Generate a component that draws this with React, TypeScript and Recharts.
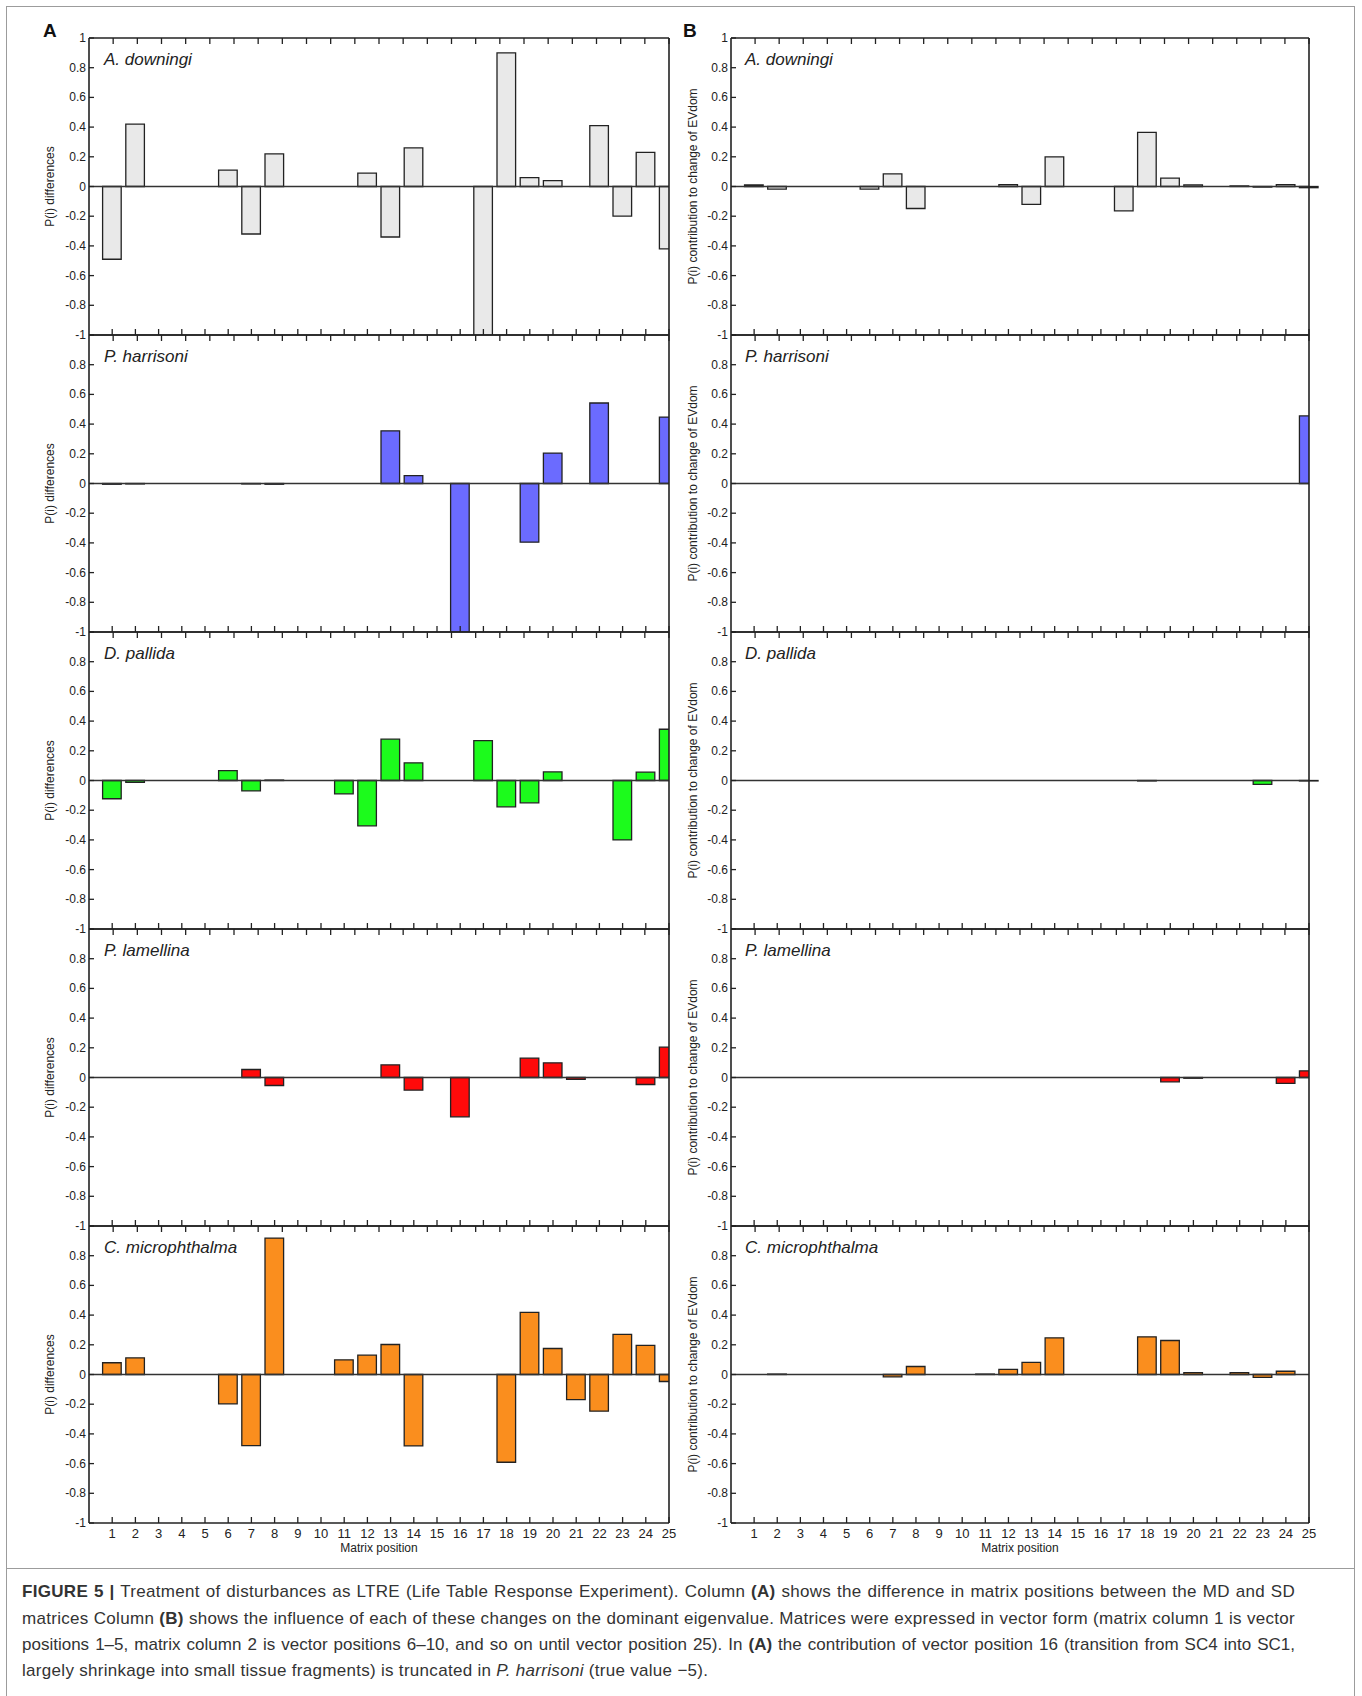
import { Bar, BarChart, XAxis, YAxis, ReferenceLine } from "recharts"

// matrix (vector) positions 1..25
const positions = [1, 2, 3, 4, 5, 6, 7, 8, 9, 10, 11, 12, 13, 14, 15, 16, 17, 18, 19, 20, 21, 22, 23, 24, 25]
const yTicks = [-1, -0.8, -0.6, -0.4, -0.2, 0, 0.2, 0.4, 0.6, 0.8, 1]

// column A: P(i) differences
const downingiDiff = [-0.49, 0.42, 0, 0, 0, 0.11, -0.32, 0.22, 0, 0, 0, 0.09, -0.34, 0.26, 0, 0, -1.03, 0.9, 0.06, 0.04, 0, 0.41, -0.2, 0.23, -0.42]
const harrisoniDiff = [-0.005, -0.003, 0, 0, 0, 0, -0.003, -0.005, 0, 0, 0, 0, 0.355, 0.053, 0, -5, 0, 0, -0.395, 0.205, 0, 0.542, 0, 0, 0.447]
const pallidaDiff = [-0.123, -0.013, 0, 0, 0, 0.067, -0.07, 0.003, 0, 0, -0.09, -0.305, 0.278, 0.119, 0, 0, 0.269, -0.177, -0.15, 0.058, 0, 0, -0.4, 0.056, 0.345]
const lamellinaDiff = [0, 0, 0, 0, 0, 0, 0.054, -0.054, 0, 0, 0, 0, 0.085, -0.085, 0, -0.265, 0, 0, 0.13, 0.099, -0.013, 0, 0, -0.047, 0.204]
const microDiff = [0.079, 0.112, 0, 0, 0, -0.198, -0.479, 0.919, 0, 0, 0.099, 0.13, 0.202, -0.481, 0, 0, 0, -0.591, 0.418, 0.175, -0.169, -0.247, 0.27, 0.196, -0.047]

// column B: P(i) contribution to change of EVdom
const downingiContrib = [0.01, -0.018, 0, 0, 0, -0.018, 0.085, -0.148, 0, 0, 0, 0.013, -0.12, 0.2, 0, 0, -0.164, 0.364, 0.056, 0.011, 0, 0.004, -0.004, 0.013, -0.008]
const harrisoniContrib = [0, 0, 0, 0, 0, 0, 0, 0, 0, 0, 0, 0, 0, 0, 0, 0, 0, 0, 0, 0, 0, 0, 0, 0, 0.455]
const pallidaContrib = [0, 0, 0, 0, 0, 0, 0, 0, 0, 0, 0, 0, 0, 0, 0, 0, 0, -0.003, 0, 0, 0, 0, -0.026, 0, -0.003]
const lamellinaContrib = [0, 0, 0, 0, 0, 0, 0, 0, 0, 0, 0, 0, 0, 0, 0, 0, 0, 0, -0.029, -0.005, 0, 0, 0, -0.039, 0.045]
const microContrib = [0, 0.003, 0, 0, 0, 0, -0.016, 0.054, 0, 0, 0.003, 0.034, 0.081, 0.247, 0, 0, 0, 0.254, 0.229, 0.013, 0, 0.013, -0.02, 0.022, 0]

const speciesNames = ["A. downingi", "P. harrisoni", "D. pallida", "P. lamellina", "C. microphthalma"]
const speciesColors = ["#e9e9e9", "#6b6bff", "#1cfb1c", "#ff0a0a", "#fa8e1e"]
const diffSeries = [downingiDiff, harrisoniDiff, pallidaDiff, lamellinaDiff, microDiff]
const contribSeries = [downingiContrib, harrisoniContrib, pallidaContrib, lamellinaContrib, microContrib]
// B panels 1 and 3 show the last bar spilling past the frame
const contribClip = [false, true, false, true, true]

const FONT = "'Liberation Sans', Arial, sans-serif"
const INK = "#222"
const PANEL_TOP = 38
const PANEL_H = 297
const AXIS_W = 60
const RIGHT_W = 10
const TOP_H = 10

const columns = [
  { plotLeft: 89, plotW: 580, title: "P(i) differences", letter: "A", letterX: 43 },
  { plotLeft: 731, plotW: 578, title: "P(i) contribution to change of EVdom", letter: "B", letterX: 683 },
]

type PanelProps = {
  values: number[]
  color: string
  col: number
  row: number
  clip: boolean
}

function Panel({ values, color, col, row, clip }: PanelProps) {
  const c = columns[col]
  const last = row === 4
  const first = row === 0
  const bottomH = last ? 45 : 10
  const data = positions.map((p, i) => ({ pos: p, v: values[i] }))
  const width = AXIS_W + c.plotW + RIGHT_W
  const height = TOP_H + PANEL_H + bottomH

  const bottomTick = (props: any) => {
    const { x, y, payload } = props
    return (
      <g>
        <line x1={x} x2={x} y1={y} y2={y - 6} stroke={INK} strokeWidth={1.3} />
        {last && (
          <text x={x} y={y + 15} textAnchor="middle" fontSize={13} fontFamily={FONT} fill={INK}>
            {payload.value}
          </text>
        )}
      </g>
    )
  }
  const topTick = (props: any) => {
    const { x, y } = props
    return <line x1={x} x2={x} y1={y} y2={y + 6} stroke={INK} strokeWidth={1.3} />
  }
  const leftTick = (props: any) => {
    const { x, y, payload } = props
    const show = payload.value !== 1 || first
    return (
      <g>
        <line x1={x} x2={x + 5} y1={y} y2={y} stroke={INK} strokeWidth={1.3} />
        {show && (
          <text x={x - 3} y={y} dy={4} textAnchor="end" fontSize={12} fontFamily={FONT} fill={INK}>
            {payload.value}
          </text>
        )}
      </g>
    )
  }
  const rightTick = (props: any) => {
    const { x, y } = props
    return <line x1={x} x2={x - 5} y1={y} y2={y} stroke={INK} strokeWidth={1.3} />
  }

  return (
    <div style={{ position: "absolute", left: c.plotLeft - AXIS_W, top: PANEL_TOP + row * PANEL_H - TOP_H }}>
      <BarChart width={width} height={height} data={data} margin={{ top: 0, right: 0, bottom: 0, left: 0 }}>
        <XAxis
          dataKey="pos"
          type="number"
          domain={[0, 25]}
          ticks={positions}
          interval={0}
          allowDataOverflow={clip}
          height={bottomH}
          tickLine={false}
          tickSize={0}
          tickMargin={0}
          tick={bottomTick}
          axisLine={{ stroke: INK, strokeWidth: 1.6 }}
          label={
            last
              ? {
                  content: (p: any) => (
                    <text
                      x={p.viewBox.x + p.viewBox.width / 2}
                      y={p.viewBox.y + 29}
                      textAnchor="middle"
                      fontSize={12}
                      fontFamily={FONT}
                      fill={INK}
                    >
                      Matrix position
                    </text>
                  ),
                }
              : undefined
          }
        />
        <XAxis
          xAxisId="top"
          orientation="top"
          type="number"
          domain={[0, 25]}
          ticks={positions}
          interval={0}
          height={TOP_H}
          tickLine={false}
          tickSize={0}
          tickMargin={0}
          tick={topTick}
          axisLine={{ stroke: INK, strokeWidth: 1.6 }}
        />
        <YAxis
          type="number"
          domain={[-1, 1]}
          ticks={yTicks}
          interval={0}
          allowDataOverflow={clip}
          width={AXIS_W}
          tickLine={false}
          tickSize={0}
          tickMargin={0}
          tick={leftTick}
          axisLine={{ stroke: INK, strokeWidth: 1.6 }}
          label={{
            content: (p: any) => {
              const lx = p.viewBox.x + AXIS_W - (col === 0 ? 39 : 38)
              const ly = p.viewBox.y + p.viewBox.height / 2
              return (
                <text
                  x={lx}
                  y={ly}
                  dy={4}
                  textAnchor="middle"
                  fontSize={12}
                  fontFamily={FONT}
                  fill={INK}
                  transform={`rotate(-90 ${lx} ${ly})`}
                >
                  {c.title}
                </text>
              )
            },
          }}
        />
        <YAxis
          yAxisId="right"
          orientation="right"
          type="number"
          domain={[-1, 1]}
          ticks={yTicks}
          interval={0}
          width={RIGHT_W}
          tickLine={false}
          tickSize={0}
          tickMargin={0}
          tick={rightTick}
          axisLine={{ stroke: INK, strokeWidth: 1.6 }}
        />
        <ReferenceLine y={0} stroke="#333" strokeWidth={1.5} />
        <Bar dataKey="v" fill={color} stroke={INK} strokeWidth={1.3} barSize={18.6} isAnimationActive={false} />
      </BarChart>
      <div
        style={{
          position: "absolute",
          left: AXIS_W + (col === 0 ? 15 : 14),
          top: TOP_H + 13,
          fontFamily: FONT,
          fontStyle: "italic",
          fontSize: 17,
          lineHeight: "17px",
          color: INK,
          whiteSpace: "nowrap",
        }}
      >
        {speciesNames[row]}
      </div>
    </div>
  )
}

const captionLine = {
  position: "absolute" as const,
  left: 22,
  width: 1273,
  fontFamily: FONT,
  fontSize: 17,
  letterSpacing: 0.3,
  lineHeight: "26px",
  color: "#333",
  whiteSpace: "nowrap" as const,
}

export default function App() {
  return (
    <div style={{ position: "absolute", left: 0, top: 0, width: 1362, height: 1696, background: "#fff", overflow: "hidden" }}>
      <div style={{ position: "absolute", left: 6, top: 6, width: 1349, height: 1563, border: "1px solid #9c9c9c", boxSizing: "border-box" }} />
      <div style={{ position: "absolute", left: 6, top: 1568, width: 1349, height: 200, border: "1px solid #9c9c9c", boxSizing: "border-box" }} />
      {columns.map((c) => (
        <div
          key={c.letter}
          style={{ position: "absolute", left: c.letterX, top: 21, fontFamily: FONT, fontWeight: "bold", fontSize: 19, lineHeight: "19px", color: "#111" }}
        >
          {c.letter}
        </div>
      ))}
      {speciesNames.map((_, row) => (
        <Panel key={"a" + row} values={diffSeries[row]} color={speciesColors[row]} col={0} row={row} clip={true} />
      ))}
      {speciesNames.map((_, row) => (
        <Panel key={"b" + row} values={contribSeries[row]} color={speciesColors[row]} col={1} row={row} clip={contribClip[row]} />
      ))}
      <div style={{ ...captionLine, top: 1579, textAlignLast: "justify" }}>
        <b>FIGURE 5 |</b> Treatment of disturbances as LTRE (Life Table Response Experiment). Column <b>(A)</b> shows the difference in matrix positions between the MD and SD
      </div>
      <div style={{ ...captionLine, top: 1606, textAlignLast: "justify" }}>
        matrices Column <b>(B)</b> shows the influence of each of these changes on the dominant eigenvalue. Matrices were expressed in vector form (matrix column 1 is vector
      </div>
      <div style={{ ...captionLine, top: 1632, textAlignLast: "justify", letterSpacing: 0 }}>
        positions 1–5, matrix column 2 is vector positions 6–10, and so on until vector position 25). In <b>(A)</b> the contribution of vector position 16 (transition from SC4 into SC1,
      </div>
      <div style={{ ...captionLine, top: 1658 }}>
        largely shrinkage into small tissue fragments) is truncated in <i>P. harrisoni</i> (true value −5).
      </div>
    </div>
  )
}
